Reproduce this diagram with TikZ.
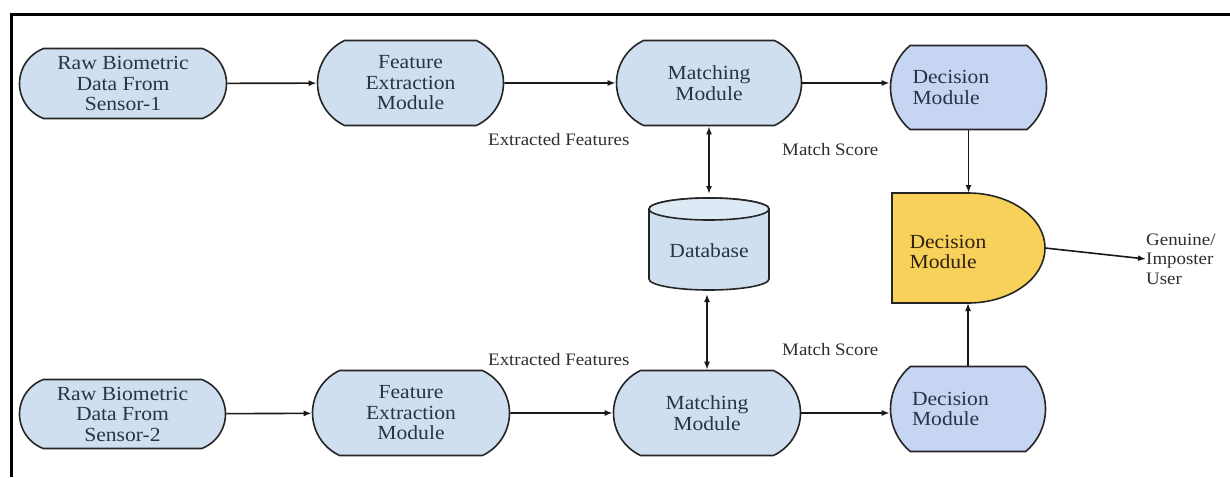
\documentclass[tikz,border=0pt]{standalone}
\usepackage{fontspec}
\setmainfont{Liberation Serif}[FakeStretch=1.08]
\usetikzlibrary{arrows.meta,shapes.misc,calc}
\definecolor{boxblue}{HTML}{CFDFF0}
\definecolor{decblue}{HTML}{C6D5F2}
\definecolor{dbtop}{HTML}{DDE9F5}
\definecolor{dyellow}{HTML}{F8D15B}
\definecolor{linec}{HTML}{252525}
\definecolor{txtc}{HTML}{263447}
\definecolor{labc}{HTML}{2E2E2E}
\tikzset{
  pill/.style={rounded rectangle, rounded rectangle arc length=130, draw=linec,
    line width=1.6pt, fill=boxblue, text=txtc, align=center, inner sep=0pt,
    font=\fontsize{20}{20.5}\selectfont},
  decbox/.style={pill, fill=decblue, rounded rectangle arc length=100,
    text width=112pt, align=left},
  lab/.style={text=labc, font=\fontsize{17.5}{19}\selectfont, inner sep=0pt, anchor=west},
  conn/.style={draw=black!90, line width=1.6pt, -{Latex[length=8pt,width=6pt]}},
  bconn/.style={draw=black!90, line width=1.6pt, {Latex[length=8pt,width=6pt]}-{Latex[length=8pt,width=6pt]}},
  ghost/.style={inner sep=0pt, outer sep=0pt}
}
\begin{document}
\begin{tikzpicture}[x=1pt,y=-1pt]
\useasboundingbox[fill=white] (0,0) rectangle (1230,477);
% frame
\draw[line width=3pt] (11,477) -- (11,14) -- (1230,14);

% upper row
\node[pill, rounded rectangle arc length=138, minimum width=207pt, minimum height=70pt] (raw1) at (123,83.5) {Raw Biometric\\Data From\\Sensor-1};
\node[pill, minimum width=186pt, minimum height=85pt] (fe1) at (410.5,83) {Feature\\Extraction\\Module};
\node[pill, minimum width=185pt, minimum height=85pt] (m1) at (709,83) {Matching\\Module};
\node[decbox, minimum width=156pt, minimum height=84pt] (d1) at (968.5,87.5) {Decision\\Module};

% lower row
\node[pill, rounded rectangle arc length=138, minimum width=206pt, minimum height=69pt] (raw2) at (122.5,414) {Raw Biometric\\Data From\\Sensor-2};
\node[pill, minimum width=197pt, minimum height=85pt] (fe2) at (411,413) {Feature\\Extraction\\Module};
\node[pill, minimum width=187pt, minimum height=85pt] (m2) at (707,413) {Matching\\Module};
\node[decbox, minimum width=155pt, minimum height=85pt] (d2) at (968,409) {Decision\\Module};

% database cylinder
\node[ghost, minimum width=120pt, minimum height=92pt] (db) at (709,244) {};
\draw[draw=linec, line width=1.6pt, fill=boxblue]
  (649,209) -- (649,279) arc[start angle=180, end angle=360, x radius=60pt, y radius=11pt]
  -- (769,209) arc[start angle=0, end angle=180, x radius=60pt, y radius=11pt] -- cycle;
\draw[draw=linec, line width=1.6pt, fill=dbtop] (709,209) ellipse [x radius=60pt, y radius=11pt];
\node[text=txtc, font=\fontsize{20}{20.5}\selectfont] at (709,251) {Database};

% yellow decision (fusion) shape
\node[ghost, minimum width=153pt, minimum height=110pt, anchor=north west] (dec) at (892,193) {};
\draw[draw=linec, line width=1.6pt, fill=dyellow]
  (892,193) -- (968,193) arc[start angle=90, end angle=-90, x radius=77pt, y radius=55pt]
  -- (892,303) -- cycle;
\node[text=black!75!brown, font=\fontsize{20}{20.5}\selectfont, align=left, anchor=west] at (906,252) {Decision\\Module};

% output label
\node[lab, align=left, font=\fontsize{17.5}{19.5}\selectfont] (res) at (1146,259) {Genuine/\\Imposter\\User};

% labels
\node[lab] at (488,140) {Extracted Features};
\node[lab] at (488,360) {Extracted Features};
\node[lab] at (782,150) {Match Score};
\node[lab] at (782,350) {Match Score};

% connectors
\draw[conn] (raw1) -- (fe1);
\draw[conn] (fe1) -- (m1);
\draw[conn] (m1.east) -- (m1.east -| d1.west);
\draw[conn] (d1.south) -- (d1.south |- dec.north);
\draw[conn] (d2.north) -- (d2.north |- dec.south);
\draw[bconn] (m1.south) -- ($(db.north)+(0,-4)$);
\draw[bconn] ($(db.south -| m2.north)+(0,4)$) -- (m2.north);
\draw[conn] (raw2) -- (fe2);
\draw[conn] (fe2) -- (m2);
\draw[conn] (m2.east) -- (m2.east -| d2.west);
\draw[conn] (dec.east) -- (res.west);
\end{tikzpicture}
\end{document}
